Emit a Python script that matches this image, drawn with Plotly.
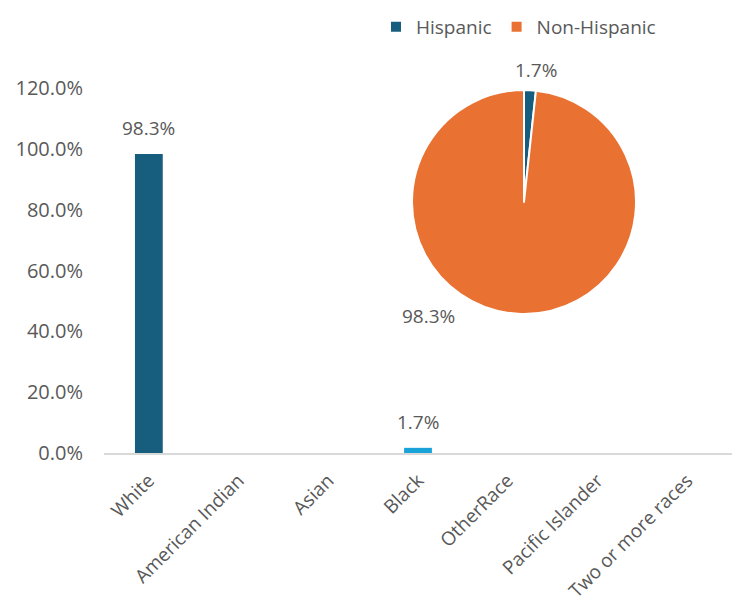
import plotly.graph_objects as go

categories = ["White", "American Indian", "Asian", "Black", "OtherRace", "Pacific Islander", "Two or more races"]
race_values = [0.983, 0.0, 0.0, 0.017, 0.0, 0.0, 0.0]
bar_colors = ["#175E7E", "#E97132", "#196B24", "#1AA3D9", "#A02B93", "#4EA72E", "#0F9ED5"]

eth_labels = ["Hispanic", "Non-Hispanic"]
eth_values = [0.017, 0.983]
eth_colors = ["#175E7E", "#E97132"]

OFF = 8  # page body margin
W, H = 740 - OFF, 611 - OFF
FONT = "Open Sans"
GREY = "#595959"


def px(x):
    return (x - OFF) / W


def py(y):
    return 1 - (y - OFF) / H


fig = go.Figure()
fig.add_trace(go.Bar(
    x=categories, y=race_values,
    marker=dict(color=bar_colors, line=dict(width=0)),
    width=0.31, showlegend=False, hoverinfo="skip",
))

# bar data labels (only non-zero values)
for c, v in zip(categories, race_values):
    if v > 0:
        fig.add_annotation(x=c, y=v, xref="x", yref="y", text=f"{v:.1%}",
                           showarrow=False, xanchor="center", yanchor="bottom",
                           yshift=11, font=dict(size=19, color=GREY, family=FONT))

fig.add_trace(go.Pie(
    labels=eth_labels, values=eth_values,
    marker=dict(colors=eth_colors, line=dict(color="white", width=2)),
    sort=False, direction="clockwise", rotation=0,
    textinfo="none", hoverinfo="skip",
    domain=dict(x=[px(412), px(636)], y=[py(314), py(90)]),
))

# pie labels placed outside
fig.add_annotation(x=px(536), y=py(70), xref="paper", yref="paper",
                   xanchor="center", yanchor="middle",
                   text=f"{eth_values[0]:.1%}", showarrow=False,
                   font=dict(size=19, color=GREY, family=FONT))
fig.add_annotation(x=px(428), y=py(316), xref="paper", yref="paper",
                   xanchor="center", yanchor="middle",
                   text=f"{eth_values[1]:.1%}", showarrow=False,
                   font=dict(size=19, color=GREY, family=FONT))

fig.update_layout(
    width=W, height=H,
    margin=dict(l=0, r=0, t=0, b=0, autoexpand=False),
    paper_bgcolor="white", plot_bgcolor="white",
    font=dict(family=FONT, color=GREY),
    xaxis=dict(domain=[px(104), px(732)], automargin=False,
               showline=True, linecolor="#D9D9D9", linewidth=2,
               tickangle=-45, tickfont=dict(size=19, color=GREY, family=FONT),
               ticks="", showgrid=False, ticklabelstandoff=7),
    yaxis=dict(domain=[py(453), py(88)], automargin=False,
               range=[0, 1.2], dtick=0.2, tickformat=".1%",
               tickfont=dict(size=20, color=GREY, family=FONT),
               showgrid=False, zeroline=False, showline=False, ticks="",
               ticklabelstandoff=20),
    legend=dict(orientation="h", x=px(376), y=1, xanchor="left", yanchor="top",
                font=dict(size=19, color=GREY, family=FONT),
                itemwidth=30, traceorder="normal"),
)

fig.write_html("out.html")
